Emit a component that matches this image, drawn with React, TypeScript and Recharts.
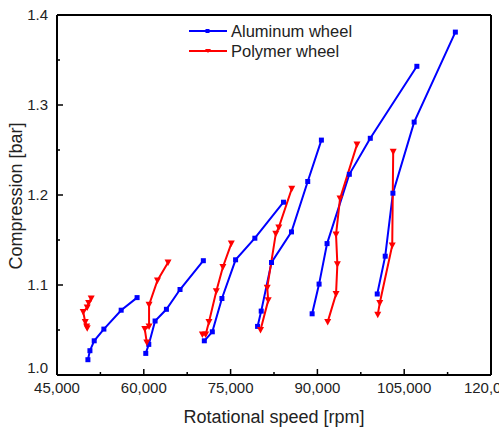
import { LineChart, Line, XAxis, YAxis } from "recharts";

// [rotational speed (rpm), compression (bar)] — one run per speed setting
const aluminumRun1 = [[50340, 1.017], [50690, 1.027], [51430, 1.038], [53100, 1.051], [56090, 1.072], [58840, 1.086]];
const aluminumRun2 = [[60340, 1.024], [60860, 1.034], [61950, 1.06], [63910, 1.073], [66260, 1.095], [70290, 1.127]];
const aluminumRun3 = [[70460, 1.038], [71840, 1.048], [73500, 1.085], [75860, 1.128], [79190, 1.152], [84140, 1.192]];
const aluminumRun4 = [[79660, 1.054], [80290, 1.071], [82070, 1.125], [85520, 1.159], [88330, 1.215], [90690, 1.261]];
const aluminumRun5 = [[89090, 1.068], [90290, 1.101], [91670, 1.146], [95520, 1.223], [99140, 1.263], [107190, 1.343]];
const aluminumRun6 = [[100340, 1.09], [101720, 1.132], [103050, 1.202], [106720, 1.281], [113840, 1.381]];

const polymerRun1 = [[50220, 1.052], [50120, 1.054], [49880, 1.059], [49530, 1.07], [50220, 1.075], [50470, 1.08], [50910, 1.085]];
const polymerRun2 = [[60520, 1.036], [60170, 1.051], [60910, 1.054], [60910, 1.078], [62360, 1.105], [64190, 1.125]];
const polymerRun3 = [[70120, 1.045], [70690, 1.045], [71260, 1.059], [72530, 1.093], [73670, 1.12], [75120, 1.146]];
const polymerRun4 = [[80170, 1.05], [81500, 1.083], [81330, 1.097], [82810, 1.157], [83330, 1.164], [85570, 1.207]];
const polymerRun5 = [[91780, 1.059], [93220, 1.09], [93450, 1.123], [93220, 1.156], [93910, 1.196], [96840, 1.256]];
const polymerRun6 = [[100430, 1.067], [100780, 1.08], [102930, 1.144], [103100, 1.248]];

const aluminumRuns = [aluminumRun1, aluminumRun2, aluminumRun3, aluminumRun4, aluminumRun5, aluminumRun6];
const polymerRuns = [polymerRun1, polymerRun2, polymerRun3, polymerRun4, polymerRun5, polymerRun6];

const xTicks = [45000, 52500, 60000, 67500, 75000, 82500, 90000, 97500, 105000, 112500, 120000];
const xMajor = [45000, 60000, 75000, 90000, 105000, 120000];
const yTicks = [1.0, 1.05, 1.1, 1.15, 1.2, 1.25, 1.3, 1.35, 1.4];
const yMajor = [1.0, 1.1, 1.2, 1.3, 1.4];

const BLUE = "#0000ff";
const RED = "#ff0000";
const FONT = "Arial, 'Liberation Sans', sans-serif";

const toPoints = (run: number[][]) => run.map(([x, y]) => ({ x, y }));

const SquareDot = (props: any) => {
  const { cx, cy } = props;
  if (cx == null || cy == null) return null;
  return <rect x={cx - 2.5} y={cy - 2.5} width={5} height={5} fill={BLUE} />;
};

const TriangleDot = (props: any) => {
  const { cx, cy } = props;
  if (cx == null || cy == null) return null;
  return (
    <polygon
      points={`${cx - 3.5},${cy - 3} ${cx + 3.5},${cy - 3} ${cx},${cy + 3.5}`}
      fill={RED}
    />
  );
};

const XTick = (props: any) => {
  const { x, y, payload } = props;
  const major = xMajor.includes(payload.value);
  return (
    <g>
      <line x1={x} y1={y} x2={x} y2={y - (major ? 6 : 3)} stroke="#000" strokeWidth={1.5} />
      {major && (
        <text x={x} y={y + 18} textAnchor="middle" fontSize={15} fill="#222">
          {payload.value.toLocaleString("en-US")}
        </text>
      )}
    </g>
  );
};

const YTick = (props: any) => {
  const { x, y, payload } = props;
  const major = yMajor.some((v) => Math.abs(v - payload.value) < 1e-6);
  // the bottom label sits a little higher so it clears "45,000"
  const lift = Math.abs(payload.value - 1.0) < 1e-6 ? 7 : 0;
  return (
    <g>
      <line x1={x} y1={y} x2={x + (major ? 6 : 3)} y2={y} stroke="#000" strokeWidth={1.5} />
      {major && (
        <text x={x - 9} y={y + 5 - lift} textAnchor="end" fontSize={15} fill="#222">
          {payload.value.toFixed(1)}
        </text>
      )}
    </g>
  );
};

const LegendRow = ({ color, label, marker }: { color: string; label: string; marker: "square" | "triangle" }) => (
  <div style={{ display: "flex", alignItems: "center", height: 20 }}>
    <svg width={40} height={10} style={{ marginRight: 2 }}>
      <line x1={0} y1={5} x2={38} y2={5} stroke={color} strokeWidth={2} />
      {marker === "square" ? (
        <rect x={16.5} y={3} width={4} height={4} fill={color} />
      ) : (
        <polygon points="16,3 22,3 19,7" fill={color} />
      )}
    </svg>
    <span>{label}</span>
  </div>
);

export default function App() {
  return (
    <div style={{ position: "absolute", left: 0, top: 0, width: 499, height: 428, fontFamily: FONT, background: "#fff" }}>
      <LineChart width={499} height={428} margin={{ top: 0, right: 0, bottom: 0, left: 0 }} style={{ fontFamily: FONT }}>
        <XAxis
          dataKey="x"
          type="number"
          domain={[45000, 120000]}
          ticks={xTicks}
          interval={0}
          allowDataOverflow
          height={53}
          tickSize={0}
          tickMargin={0}
          tickLine={false}
          axisLine={{ stroke: "#000", strokeWidth: 2 }}
          tick={<XTick />}
          label={{
            content: () => (
              <text x={274} y={423} textAnchor="middle" fontSize={18} fill="#222" fontFamily={FONT}>
                Rotational speed [rpm]
              </text>
            ),
          }}
        />
        <XAxis
          xAxisId="top"
          orientation="top"
          dataKey="x"
          type="number"
          domain={[45000, 120000]}
          height={15}
          tick={false}
          tickLine={false}
          axisLine={{ stroke: "#000", strokeWidth: 2 }}
        />
        <YAxis
          type="number"
          domain={[1.0, 1.4]}
          ticks={yTicks}
          interval={0}
          allowDataOverflow
          width={57}
          tickSize={0}
          tickMargin={0}
          tickLine={false}
          axisLine={{ stroke: "#000", strokeWidth: 2 }}
          tick={<YTick />}
          label={{
            content: () => (
              <text
                x={16}
                y={196}
                transform="rotate(-90 16 196)"
                textAnchor="middle"
                dominantBaseline="central"
                fontSize={18}
                fill="#222"
                fontFamily={FONT}
              >
                Compression [bar]
              </text>
            ),
          }}
        />
        <YAxis
          yAxisId="right"
          orientation="right"
          type="number"
          domain={[1.0, 1.4]}
          width={8}
          tick={false}
          tickLine={false}
          axisLine={{ stroke: "#000", strokeWidth: 2 }}
        />
        {aluminumRuns.map((run, i) => (
          <Line
            key={`al${i}`}
            data={toPoints(run)}
            dataKey="y"
            type="linear"
            stroke={BLUE}
            strokeWidth={2}
            dot={<SquareDot />}
            activeDot={false}
            isAnimationActive={false}
          />
        ))}
        {polymerRuns.map((run, i) => (
          <Line
            key={`pm${i}`}
            data={toPoints(run)}
            dataKey="y"
            type="linear"
            stroke={RED}
            strokeWidth={2}
            dot={<TriangleDot />}
            activeDot={false}
            isAnimationActive={false}
          />
        ))}
      </LineChart>
      <div style={{ position: "absolute", left: 189, top: 21, fontSize: 16.5, color: "#222", lineHeight: "20px" }}>
        <LegendRow color={BLUE} label="Aluminum wheel" marker="square" />
        <LegendRow color={RED} label="Polymer wheel" marker="triangle" />
      </div>
    </div>
  );
}
